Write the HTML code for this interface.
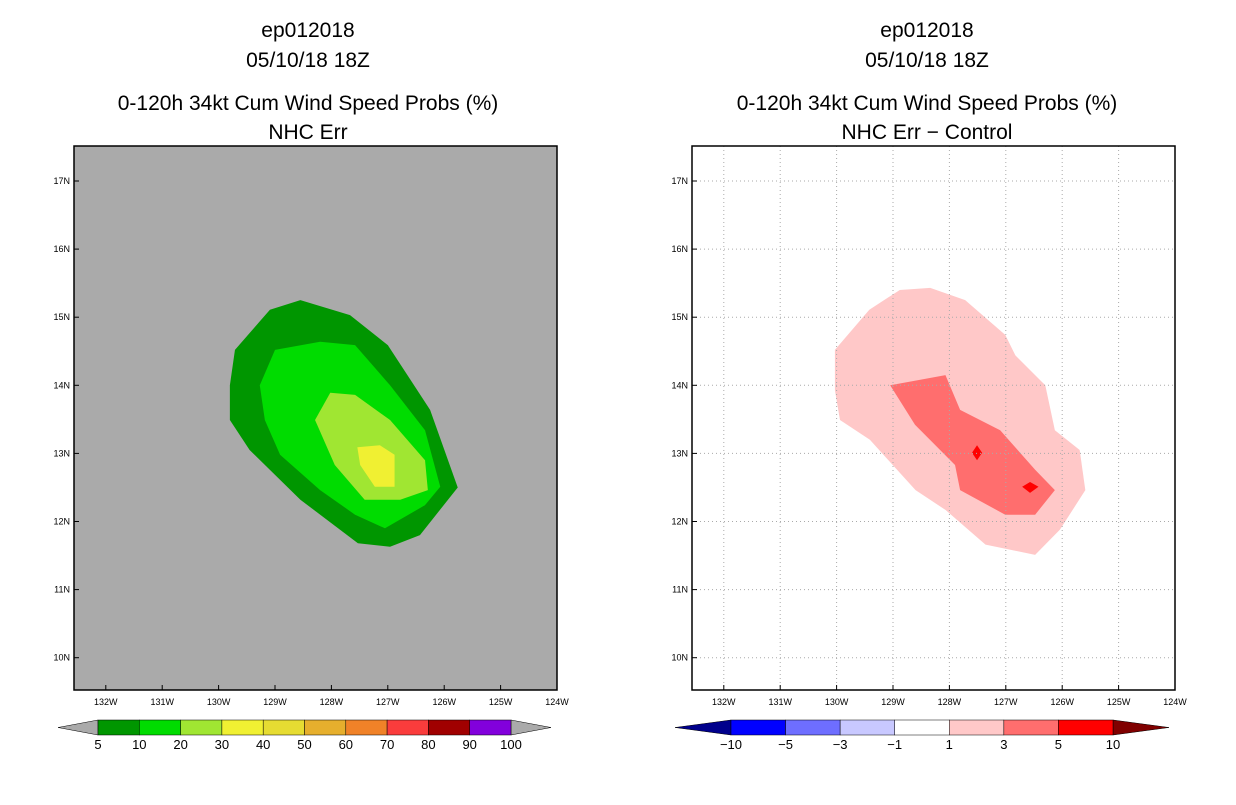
<!DOCTYPE html>
<html><head><meta charset="utf-8"><style>
body{margin:0;background:#fff;}
svg text{font-family:"Liberation Sans",sans-serif;}
</style></head><body>
<svg id="svg" width="1236" height="800" xmlns="http://www.w3.org/2000/svg"></svg>
<script>
const lonTicks=[132,131,130,129,128,127,126,125,124];
const latTicks=[17,16,15,14,13,12,11,10];
const leftLevels=["5","10","20","30","40","50","60","70","80","90","100"];
const leftColors=["#009600","#00dc00","#a0e632","#f0f032","#e6dc32","#e6af2d","#f08228","#fa3c3c","#a00000","#8200dc"];
const rightLevels=["-10","-5","-3","-1","1","3","5","10"];
const rightColors=["#0000ff","#6e6eff","#c8c8ff","#ffffff","#ffc8c8","#ff6e6e","#ff0000"];
const left5=[[129.71,14.52],[129.09,15.11],[128.55,15.25],[127.67,15.03],[127.0,14.59],[126.25,13.64],[125.76,12.5],[126.43,11.8],[126.96,11.63],[127.53,11.68],[128.55,12.32],[129.45,13.05],[129.8,13.49],[129.8,14.0]];
const left10=[[129.27,14.0],[129.0,14.52],[128.2,14.64],[127.58,14.59],[126.96,14.0],[126.34,13.34],[126.07,12.51],[126.34,12.24],[127.05,11.9],[127.58,12.1],[128.2,12.46],[128.91,12.98],[129.18,13.49]];
const left20=[[128.29,13.49],[128.02,13.89],[127.58,13.86],[126.96,13.49],[126.34,12.9],[126.29,12.46],[126.78,12.32],[127.41,12.32],[127.94,12.83]];
const left30=[[127.54,13.09],[127.14,13.12],[126.88,12.98],[126.88,12.51],[127.23,12.51],[127.49,12.83]];
const right1=[[130.03,14.52],[129.42,15.11],[128.88,15.4],[128.34,15.43],[127.72,15.25],[127.01,14.74],[126.83,14.44],[126.3,14.0],[126.13,13.34],[125.69,13.05],[125.59,12.46],[126.04,11.88],[126.48,11.51],[127.36,11.66],[128.07,12.17],[128.6,12.46],[129.41,13.2],[129.94,13.49],[130.03,13.93]];
const right3=[[129.05,14.0],[128.07,14.15],[127.81,13.64],[127.1,13.34],[126.48,12.76],[126.13,12.46],[126.48,12.1],[127.01,12.1],[127.81,12.46],[127.9,12.83],[128.61,13.42]];
const right5a=[[127.51,13.12],[127.42,13.01],[127.51,12.9],[127.6,13.01]];
const right5b=[[126.57,12.58],[126.42,12.51],[126.57,12.42],[126.71,12.51]];

const svg=document.getElementById('svg');
const NS="http://www.w3.org/2000/svg";
function mk(tag,attrs,parent){const e=document.createElementNS(NS,tag);for(const k in attrs)e.setAttribute(k,attrs[k]);(parent||svg).appendChild(e);return e;}
function panel(x0,name){
  const W=483,T=146,H=544;
  const xs=lw=>x0+W-(lw-124)*56.4;
  const ys=la=>181+(17-la)*68.1;
  const g=mk('g',{});
  
  
  return {g,xs,ys,x0,W,T,H};
}
function poly(p,pts,fill,name){
  const e=mk('polygon',{points:pts.map(q=>p.xs(q[0])+','+p.ys(q[1])).join(' '),fill:fill},p.g);
  
  
}
function axes(p,grid){
  if(grid){
    lonTicks.forEach(l=>{const x=p.xs(l);if(x>p.x0+1&&x<p.x0+p.W-1)mk('line',{x1:x,x2:x,y1:p.T,y2:p.T+p.H,stroke:'#aaa','stroke-dasharray':'1,3'},p.g);});
    latTicks.forEach(l=>{const y=p.ys(l);mk('line',{x1:p.x0,x2:p.x0+p.W,y1:y,y2:y,stroke:'#aaa','stroke-dasharray':'1,3'},p.g);});
  }
  const f=mk('rect',{x:p.x0,y:p.T,width:p.W,height:p.H,fill:'none',stroke:'#000','stroke-width':1.5},p.g);
  
  
  lonTicks.forEach(l=>{const x=p.xs(l);mk('line',{x1:x,x2:x,y1:p.T+p.H,y2:p.T+p.H-5,stroke:'#000'},p.g);
    const t=mk('text',{x:x,y:p.T+p.H+15,'font-size':9,'text-anchor':'middle'},p.g);t.textContent=l+'W';
    
    });
  latTicks.forEach(l=>{const y=p.ys(l);mk('line',{x1:p.x0,x2:p.x0+5,y1:y,y2:y,stroke:'#000'},p.g);
    const t=mk('text',{x:p.x0-4,y:y+3,'font-size':9,'text-anchor':'end'},p.g);t.textContent=l+'N';
    
    });
}
function titles(cx,l4){
  [['ep012018',37],['05/10/18 18Z',67],['0-120h 34kt Cum Wind Speed Probs (%)',110],[l4,139]].forEach(a=>{
    const t=mk('text',{x:cx,y:a[1],'font-size':21,'text-anchor':'middle'});t.textContent=a[0];
    
    });
}
function colorbar(x0,x1,tw,labels,colors,lc,rc,name){
  const g=mk('g',{});
  
  
  const y=720,h=15,bw=(x1-x0)/colors.length;
  mk('polygon',{points:`${x0-tw},${y+h/2} ${x0},${y} ${x0},${y+h}`,fill:lc,stroke:'#000','stroke-width':0.5},g);
  mk('polygon',{points:`${x1+tw},${y+h/2} ${x1},${y} ${x1},${y+h}`,fill:rc,stroke:'#000','stroke-width':0.5},g);
  colors.forEach((c,i)=>{const r=mk('rect',{x:x0+i*bw,y:y,width:bw,height:h,fill:c,stroke:'#000','stroke-width':0.5},g);
    
    });
  labels.forEach((l,i)=>{const t=mk('text',{x:x0+i*bw,y:y+h+14,'font-size':13,'text-anchor':'middle'},g);t.textContent=l.replace('-','\u2212');
    
    });
}
const L=panel(74,'left-map');
mk('rect',{x:74,y:146,width:483,height:544,fill:'#aaaaaa'},L.g);
poly(L,left5,leftColors[0],'contour-5');
poly(L,left10,leftColors[1],'contour-10');
poly(L,left20,leftColors[2],'contour-20');
poly(L,left30,leftColors[3],'contour-30');
axes(L,false);
const R=panel(692,'right-map');
poly(R,right1,rightColors[4],'contour-1');
poly(R,right3,rightColors[5],'contour-3');
poly(R,right5a,rightColors[6],'contour-5a');
poly(R,right5b,rightColors[6],'contour-5b');
axes(R,true);
titles(308,'NHC Err');
titles(927,'NHC Err \u2212 Control');
colorbar(98,511,40,leftLevels,leftColors,'#aaaaaa','#aaaaaa','left-colorbar');
colorbar(731,1113,56,rightLevels,rightColors,'#00008c','#800000','right-colorbar');
</script>
</body></html>
